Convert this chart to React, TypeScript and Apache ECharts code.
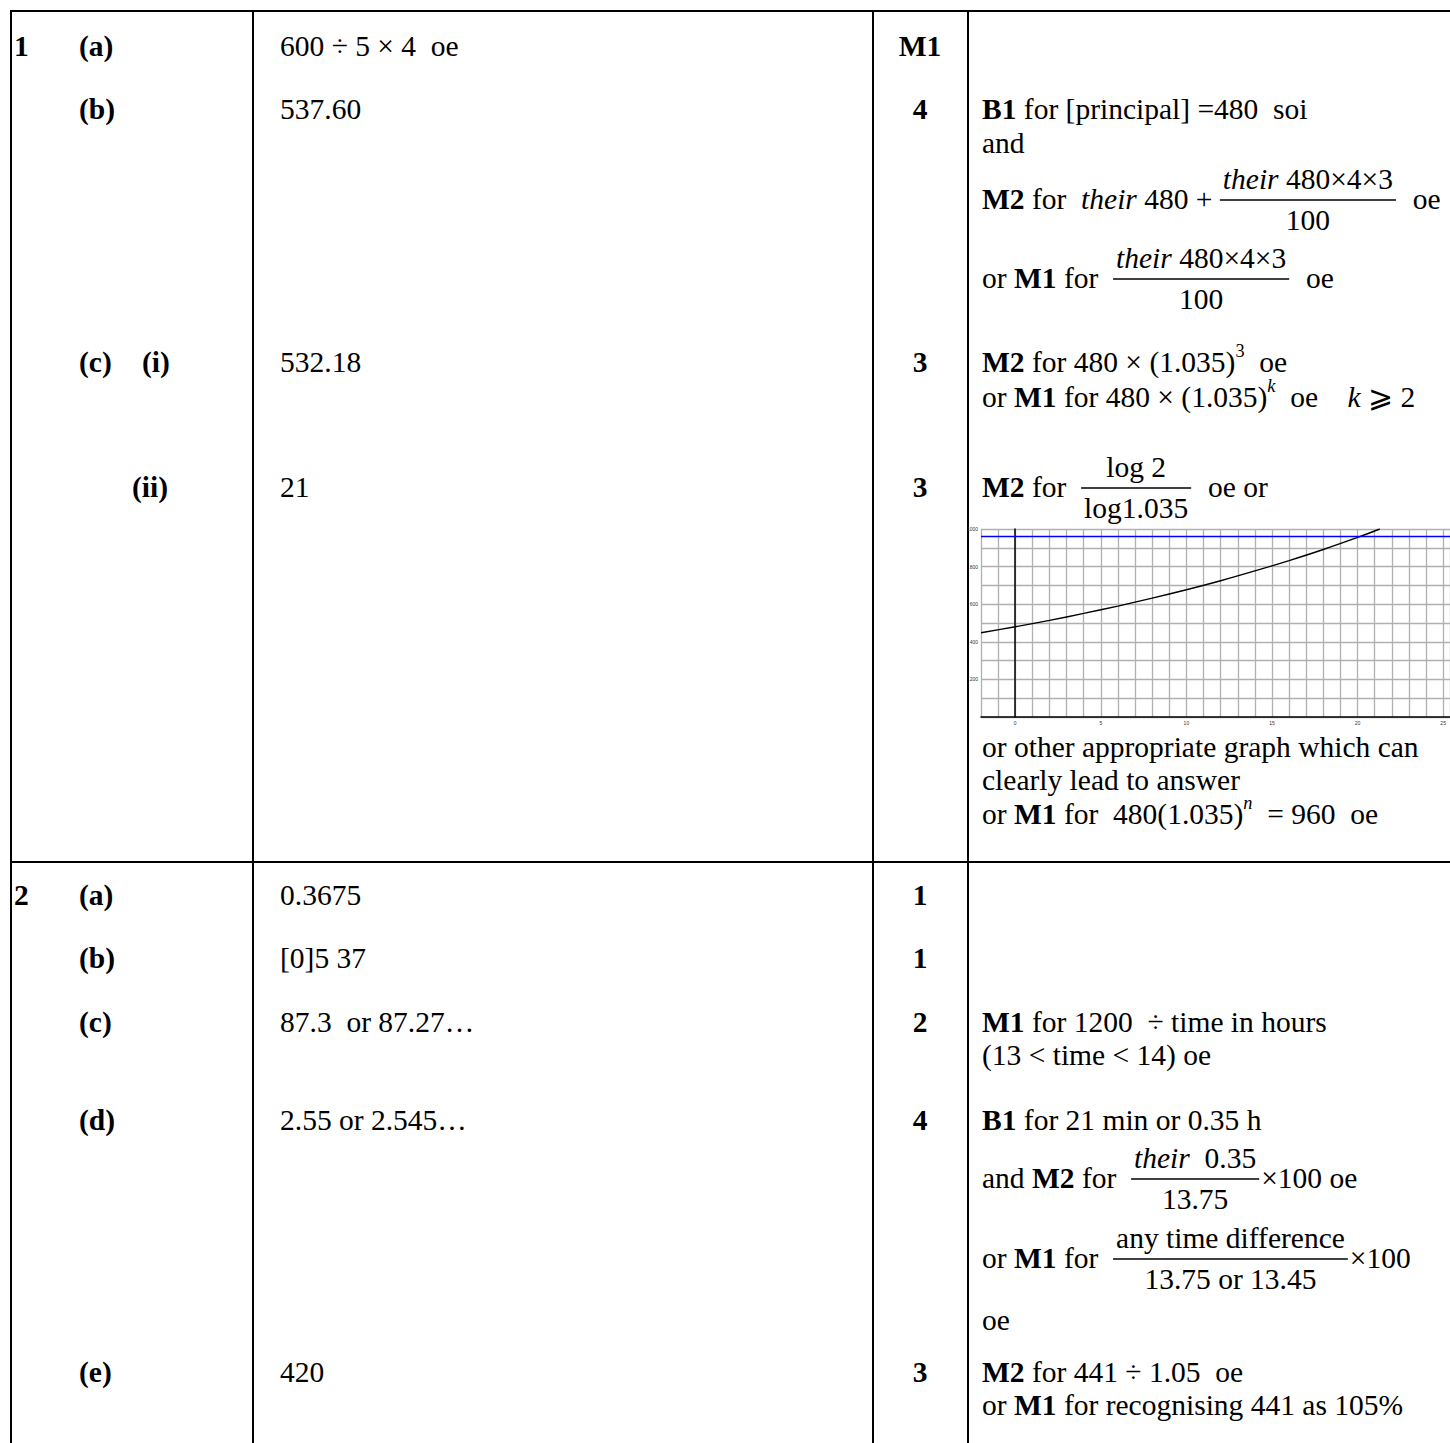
import React, { useEffect, useRef } from "react";
import * as echarts from "echarts";

// ---------- embedded graph data ----------
const curveX = [-2, 0, 2, 4, 6, 8, 10, 12, 14, 16, 18, 20, 21.3];
const curveY = [448, 480, 514, 551, 590, 632, 677, 725, 777, 832, 891, 955, 1000];
const targetValue = 960;
const xTickLabels = ["0", "5", "10", "15", "20", "25"];
const yTickLabels = ["200", "400", "600", "800", "1000"];

// ---------- mark scheme content ----------
type Frac = { num: string; den: string };
type Line = Array<string | Frac>;

const questionNumbers = ["1", "2"];
const partLabels = ["(a)", "(b)", "(c)", "(a)", "(b)", "(c)", "(d)", "(e)"];
const answers = [
  "600 ÷ 5 × 4  oe",
  "537.60",
  "532.18",
  "21",
  "0.3675",
  "[0]5 37",
  "87.3  or 87.27…",
  "2.55 or 2.545…",
  "420",
];
const marks = ["M1", "4", "3", "3", "1", "1", "2", "4", "3"];

const guidance: Line[] = [
  ["**B1** for [principal] =480  soi"],
  ["and"],
  ["**M2** for  *their* 480 + ", { num: "*their* 480×4×3", den: "100" }, "  oe"],
  ["or **M1** for  ", { num: "*their* 480×4×3", den: "100" }, "  oe"],
  ["**M2** for 480 × (1.035)^{3}  oe"],
  ["or **M1** for 480 × (1.035)^{*k*}  oe    *k* ⩾ 2"],
  ["**M2** for  ", { num: "log 2", den: "log1.035" }, "  oe or"],
  ["or other appropriate graph which can"],
  ["clearly lead to answer"],
  ["or **M1** for  480(1.035)^{*n*}  = 960  oe"],
  ["**M1** for 1200  ÷ time in hours"],
  ["(13 < time < 14) oe"],
  ["**B1** for 21 min or 0.35 h"],
  ["and **M2** for  ", { num: "*their*  0.35", den: "13.75" }, "×100 oe"],
  ["or **M1** for  ", { num: "any time difference", den: "13.75 or 13.45" }, "×100"],
  ["oe"],
  ["**M2** for 441 ÷ 1.05  oe"],
  ["or **M1** for recognising 441 as 105%"],
];

// ---------- layout (positions) ----------
const W = 1450;
const H = 1443;
const FS = 29.5;
const FAMILY = "'Liberation Serif', 'Times New Roman', serif";
const COL_Q = 14;
const COL_PART = 79;
const COL_ANS = 280;
const COL_MARK = 920;
const COL_GUIDE = 982;
const V_LINES = [11, 253, 873, 968];
const H_LINES = [11, 862];
const qY = [46, 895];
const partY = [46, 109, 362, 895, 958, 1022, 1120, 1372];
const ansY = [46, 109, 362, 487, 895, 958, 1022, 1120, 1372];
const guideY = [109, 143, 199, 278, 362, 397, 487, 747, 780, 814, 1022, 1055, 1120, 1178, 1258, 1320, 1372, 1405];
const GRAPH = { left: 981, top: 529, width: 469, height: 188 };

// ---------- tiny typesetter ----------
type Seg = { t: string; b: boolean; i: boolean; sup: boolean };

function parse(s: string, sup = false): Seg[] {
  const out: Seg[] = [];
  let bold = false;
  let ital = false;
  let buf = "";
  const flush = () => {
    if (buf) out.push({ t: buf, b: bold, i: ital, sup });
    buf = "";
  };
  for (let k = 0; k < s.length; k++) {
    if (s.startsWith("**", k)) {
      flush();
      bold = !bold;
      k++;
      continue;
    }
    if (s[k] === "*") {
      flush();
      ital = !ital;
      continue;
    }
    if (s.startsWith("^{", k)) {
      flush();
      const end = s.indexOf("}", k);
      const inner = s.slice(k + 2, end);
      parse(inner, true).forEach((x) => out.push({ ...x, b: x.b || bold, i: x.i || ital }));
      k = end;
      continue;
    }
    buf += s[k];
  }
  flush();
  return out;
}

const fontOf = (b: boolean, i: boolean, size: number) =>
  `${i ? "italic " : ""}${b ? "bold " : ""}${size}px ${FAMILY}`;

let ctx: CanvasRenderingContext2D | null = null;
function measure(t: string, font: string): number {
  if (!ctx) ctx = document.createElement("canvas").getContext("2d");
  if (!ctx) return t.length * FS * 0.5;
  ctx.font = font;
  return ctx.measureText(t).width;
}

function textEl(text: string, x: number, y: number, font: string, align = "left") {
  return {
    type: "text",
    x,
    y,
    silent: true,
    style: {
      text,
      font,
      fill: "#000",
      align,
      verticalAlign: "middle",
      textAlign: align,
      textVerticalAlign: "middle",
    },
  };
}

function segSize(s: Seg) {
  return s.sup ? FS * 0.62 : FS;
}

function segsWidth(segs: Seg[]) {
  return segs.reduce((w, s) => w + measure(s.t, fontOf(s.b, s.i, segSize(s))), 0);
}

function placeSegs(segs: Seg[], x: number, y: number, els: any[]) {
  for (const s of segs) {
    const size = segSize(s);
    const font = fontOf(s.b, s.i, size);
    const lead = (s.t.match(/^\s*/) || [""])[0];
    const trimmed = s.t.trim();
    if (trimmed) {
      const shown = trimmed.replace(/ {2,}/g, (m) => " " + "\u00a0".repeat(m.length - 1));
      els.push(textEl(shown, x + measure(lead, font), s.sup ? y - FS * 0.38 : y, font));
    }
    x += measure(s.t, font);
  }
  return x;
}

function layoutLine(line: Line, x0: number, y: number, els: any[]) {
  let x = x0;
  for (const part of line) {
    if (typeof part === "string") {
      x = placeSegs(parse(part), x, y, els);
    } else {
      const ns = parse(part.num);
      const ds = parse(part.den);
      const nw = segsWidth(ns);
      const dw = segsWidth(ds);
      const bw = Math.max(nw, dw) + 6;
      placeSegs(ns, x + (bw - nw) / 2, y - 20, els);
      placeSegs(ds, x + (bw - dw) / 2, y + 21, els);
      els.push({
        type: "line",
        silent: true,
        shape: { x1: x, y1: y + 1, x2: x + bw, y2: y + 1 },
        style: { stroke: "#000", lineWidth: 1.3 },
      });
      x += bw + 2;
    }
  }
  return x;
}

function buildGraphic() {
  const els: any[] = [];
  V_LINES.forEach((x) =>
    els.push({
      type: "line",
      silent: true,
      shape: { x1: x, y1: 10, x2: x, y2: H },
      style: { stroke: "#000", lineWidth: 2 },
    })
  );
  H_LINES.forEach((y) =>
    els.push({
      type: "line",
      silent: true,
      shape: { x1: 10, y1: y, x2: W, y2: y },
      style: { stroke: "#000", lineWidth: 2 },
    })
  );
  const boldF = fontOf(true, false, FS);
  questionNumbers.forEach((q, k) => els.push(textEl(q, COL_Q, qY[k], boldF)));
  partLabels.forEach((p, k) => els.push(textEl(p, COL_PART, partY[k], boldF)));
  els.push(textEl("(i)", 142, partY[2], boldF));
  els.push(textEl("(ii)", 168, ansY[3], boldF, "right"));
  answers.forEach((a, k) => layoutLine([a], COL_ANS, ansY[k], els));
  marks.forEach((m, k) => els.push(textEl(m, COL_MARK, ansY[k], boldF, "center")));
  guidance.forEach((g, k) => layoutLine(g, COL_GUIDE, guideY[k], els));
  return els;
}

function buildOption() {
  const gridColor = "#b0b0b0";
  return {
    animation: false,
    backgroundColor: "#ffffff",
    grid: [{ left: GRAPH.left, top: GRAPH.top, width: GRAPH.width, height: GRAPH.height, containLabel: false }],
    xAxis: {
      type: "value",
      min: -2,
      max: 25.4,
      interval: 1,
      axisLine: { show: true, onZero: true, lineStyle: { color: "#000", width: 1.5 } },
      axisTick: { show: false },
      axisLabel: {
        fontSize: 5,
        color: "#333",
        margin: 3,
        showMinLabel: false,
        showMaxLabel: false,
        formatter: (v: number) => (xTickLabels.includes(String(v)) ? String(v) : ""),
      },
      splitLine: { show: true, lineStyle: { color: gridColor, width: 1.3 } },
    },
    yAxis: {
      type: "value",
      min: 0,
      max: 1000,
      interval: 100,
      axisLine: { show: true, onZero: true, lineStyle: { color: "#000", width: 1.5 } },
      axisTick: { show: false },
      axisLabel: {
        fontSize: 5,
        color: "#333",
        margin: 3,
        formatter: (v: number) => (yTickLabels.includes(String(v)) ? String(v) : ""),
      },
      splitLine: { show: true, lineStyle: { color: gridColor, width: 1.3 } },
    },
    series: [
      {
        type: "line",
        data: curveX.map((x, i) => [x, curveY[i]]),
        smooth: 0.3,
        showSymbol: false,
        clip: true,
        lineStyle: { color: "#000", width: 1.4 },
        silent: true,
      },
      {
        type: "line",
        data: [
          [-2, targetValue],
          [25.4, targetValue],
        ],
        showSymbol: false,
        lineStyle: { color: "#0000ff", width: 1.3 },
        silent: true,
      },
    ],
    graphic: { elements: buildGraphic() },
  };
}

export default function App() {
  const ref = useRef<HTMLDivElement>(null);
  useEffect(() => {
    if (!ref.current) return;
    const chart = echarts.init(ref.current, null, { renderer: "svg", width: W, height: H });
    chart.setOption(buildOption() as any);
    return () => chart.dispose();
  }, []);
  return (
    <div
      ref={ref}
      style={{ position: "absolute", left: 0, top: 0, width: W, height: H, background: "#fff" }}
    />
  );
}
